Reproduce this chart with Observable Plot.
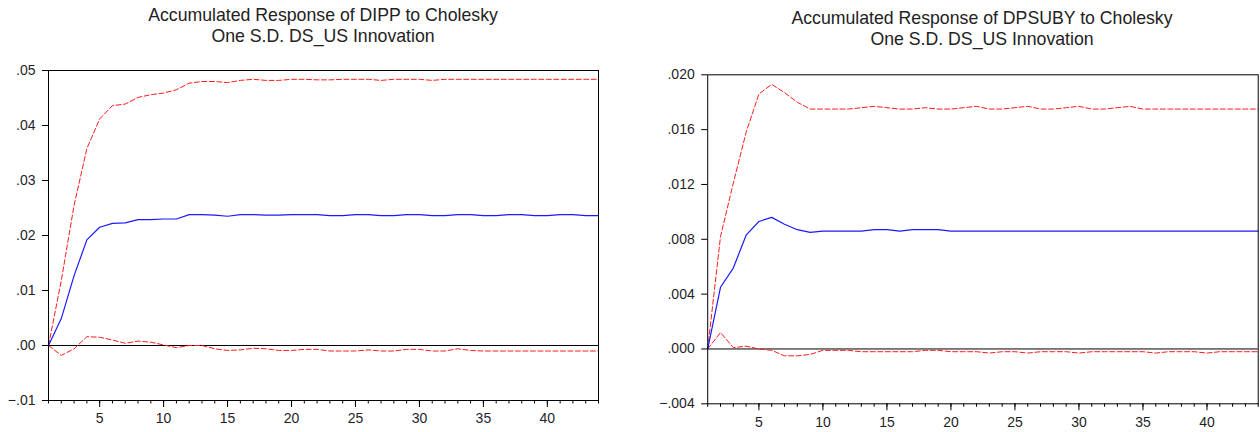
<!DOCTYPE html>
<html>
<head>
<meta charset="utf-8">
<script src="https://cdn.jsdelivr.net/npm/d3@7"></script>
<script src="https://cdn.jsdelivr.net/npm/@observablehq/plot@0.6"></script>
<style>
  html, body { margin: 0; padding: 0; background: #fff; }
  #wrap { position: relative; width: 1260px; height: 432px; overflow: hidden; font-family: "Liberation Sans", Arial, sans-serif; }
  .title { position: absolute; text-align: center; font-size: 17.7px; line-height: 21px; color: #222; white-space: nowrap; z-index: 2; }
  .panel { position: absolute; top: 0; }
</style>
</head>
<body>
<div id="wrap"></div>
<script>
// Horizon (periods)
const periods = [1,2,3,4,5,6,7,8,9,10,11,12,13,14,15,16,17,18,19,20,21,22,23,24,25,26,27,28,29,30,31,32,33,34,35,36,37,38,39,40,41,42,43,44];
const majorTicks = [5,10,15,20,25,30,35,40];

// Panel 1: Accumulated Response of DIPP
const titleL = ["Accumulated Response of DIPP to Cholesky", "One S.D. DS_US Innovation"];
const yTicksL = [-0.01, 0.00, 0.01, 0.02, 0.03, 0.04, 0.05];
const respL = [0, 0.0049, 0.0127, 0.0192, 0.0215, 0.0222, 0.0223, 0.0229, 0.0229, 0.0230,
  0.0230, 0.0238, 0.0238, 0.0237, 0.0235, 0.0238, 0.0238, 0.0237, 0.0237, 0.0238,
  0.0238, 0.0238, 0.0236, 0.0236, 0.0238, 0.0238, 0.0236, 0.0236, 0.0238, 0.0238,
  0.0236, 0.0236, 0.0238, 0.0238, 0.0236, 0.0236, 0.0238, 0.0238, 0.0236, 0.0236,
  0.0238, 0.0238, 0.0236, 0.0236];
const upperL = [0, 0.0118, 0.0255, 0.0358, 0.0412, 0.0436, 0.0439, 0.0451, 0.0456, 0.0459,
  0.0465, 0.0477, 0.0480, 0.0480, 0.0478, 0.0482, 0.0484, 0.0482, 0.0482, 0.0484,
  0.0484, 0.0483, 0.0483, 0.0484, 0.0484, 0.0484, 0.0482, 0.0484, 0.0484, 0.0484,
  0.0482, 0.0484, 0.0484, 0.0484, 0.0484, 0.0484, 0.0484, 0.0484, 0.0484, 0.0484,
  0.0484, 0.0484, 0.0484, 0.0484];
const lowerL = [0, -0.0018, -0.0006, 0.0016, 0.0015, 0.0010, 0.0004, 0.0008, 0.0006, 0.0001,
  -0.0004, 0.0000, 0.0000, -0.0006, -0.0009, -0.0008, -0.0005, -0.0006, -0.0009, -0.0009,
  -0.0007, -0.0007, -0.0010, -0.0010, -0.0010, -0.0008, -0.0010, -0.0010, -0.0007, -0.0007,
  -0.0010, -0.0010, -0.0006, -0.0009, -0.0010, -0.0010, -0.0010, -0.0010, -0.0010, -0.0010,
  -0.0010, -0.0010, -0.0010, -0.0010];

// Panel 2: Accumulated Response of DPSUBY
const titleR = ["Accumulated Response of DPSUBY to Cholesky", "One S.D. DS_US Innovation"];
const yTicksR = [-0.004, 0.000, 0.004, 0.008, 0.012, 0.016, 0.020];
const respR = [0, 0.0045, 0.0059, 0.0083, 0.0093, 0.0096, 0.0091, 0.0087, 0.0085, 0.0086,
  0.0086, 0.0086, 0.0086, 0.0087, 0.0087, 0.0086, 0.0087, 0.0087, 0.0087, 0.0086,
  0.0086, 0.0086, 0.0086, 0.0086, 0.0086, 0.0086, 0.0086, 0.0086, 0.0086, 0.0086,
  0.0086, 0.0086, 0.0086, 0.0086, 0.0086, 0.0086, 0.0086, 0.0086, 0.0086, 0.0086,
  0.0086, 0.0086, 0.0086, 0.0086];
const upperR = [0, 0.0082, 0.0121, 0.0158, 0.0186, 0.0193, 0.0187, 0.0180, 0.0175, 0.0175,
  0.0175, 0.0175, 0.0176, 0.0177, 0.0176, 0.0175, 0.0175, 0.0176, 0.0175, 0.0175,
  0.0176, 0.0177, 0.0175, 0.0175, 0.0176, 0.0177, 0.0175, 0.0175, 0.0176, 0.0177,
  0.0175, 0.0175, 0.0176, 0.0177, 0.0175, 0.0175, 0.0175, 0.0175, 0.0175, 0.0175,
  0.0175, 0.0175, 0.0175, 0.0175];
const lowerR = [0, 0.0012, 0.0001, 0.0002, 0.0000, -0.0001, -0.0005, -0.0005, -0.0004, -0.0001,
  -0.0001, -0.0001, -0.0002, -0.0002, -0.0002, -0.0002, -0.0002, -0.0001, -0.0001, -0.0002,
  -0.0002, -0.0002, -0.0003, -0.0002, -0.0002, -0.0003, -0.0002, -0.0002, -0.0002, -0.0003,
  -0.0002, -0.0002, -0.0002, -0.0002, -0.0002, -0.0003, -0.0002, -0.0002, -0.0002, -0.0003,
  -0.0002, -0.0002, -0.0002, -0.0002];

function fmt(dec) {
  const f = d3.format("." + dec + "f");
  return d => f(d).replace("0.", ".");
}

function table(vals) { return periods.map((p, i) => ({p, v: vals[i]})); }

function panel({resp, upper, lower, yTicks, dec, left, mL, mR, mT, mB}) {
  const svg = Plot.plot({
    width: 630,
    height: 432,
    marginLeft: mL, marginRight: mR, marginTop: mT, marginBottom: mB,
    style: {fontSize: "14px", fontFamily: "'Liberation Sans', Arial, sans-serif", color: "#1f1f2a", background: "white"},
    x: {domain: [1, 44], label: null},
    y: {domain: [yTicks[0], yTicks[yTicks.length - 1]], label: null},
    marks: [
      Plot.ruleY([0], {stroke: "black", strokeWidth: 1}),
      Plot.line(table(upper), {x: "p", y: "v", stroke: "#ff1a1a", strokeWidth: 1, strokeDasharray: "5,2.5"}),
      Plot.line(table(lower), {x: "p", y: "v", stroke: "#ff1a1a", strokeWidth: 1, strokeDasharray: "5,2.5"}),
      Plot.line(table(resp), {x: "p", y: "v", stroke: "#1a1aff", strokeWidth: 1.2}),
      Plot.frame({stroke: "black", strokeWidth: 1}),
      Plot.axisX({ticks: periods, tickSize: 3.5, tickFormat: () => "", stroke: "black", label: null}),
      Plot.axisX({ticks: majorTicks, tickSize: 7, tickPadding: 6, tickFormat: d => String(d), stroke: "black", label: null}),
      Plot.axisY({ticks: yTicks, tickSize: 6, tickPadding: 7, tickFormat: fmt(dec), stroke: "black", label: null})
    ]
  });
  svg.classList.add("panel");
  svg.style.left = left + "px";
  return svg;
}

const wrap = document.getElementById("wrap");
wrap.appendChild(panel({resp: respL, upper: upperL, lower: lowerL, yTicks: yTicksL, dec: 2, left: 0, mL: 48, mR: 32, mT: 70, mB: 32}));
wrap.appendChild(panel({resp: respR, upper: upperR, lower: lowerR, yTicks: yTicksR, dec: 3, left: 630, mL: 77.2, mR: 2.3, mT: 74.3, mB: 28.7}));

function addTitle(lines, cx, top) {
  const d = document.createElement("div");
  d.className = "title";
  d.style.left = (cx - 250) + "px";
  d.style.width = "500px";
  d.style.top = top + "px";
  d.innerHTML = lines.map(l => "<div>" + l + "</div>").join("");
  wrap.appendChild(d);
}
addTitle(titleL, 323, 5);
addTitle(titleR, 982, 8);
</script>
</body>
</html>
